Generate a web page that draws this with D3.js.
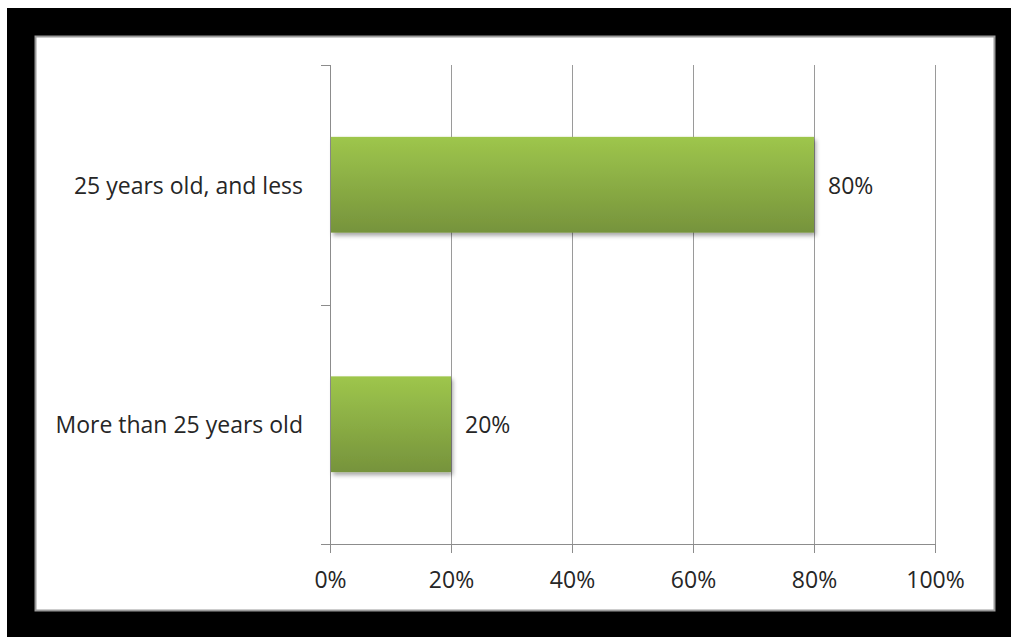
<!DOCTYPE html>
<html>
<head>
<meta charset="utf-8">
<script src="https://cdn.jsdelivr.net/npm/d3@7"></script>
<style>
  html, body { margin: 0; padding: 0; background: #fff; }
  svg { display: block; }
  text { font-family: "Open Sans", sans-serif; fill: #262626; }
</style>
</head>
<body>
<svg id="chart" width="1011" height="637"></svg>
<script>
// Share of respondents by age group
const categories = ["25 years old, and less", "More than 25 years old"];
const values = [80, 20];
const xTicks = [0, 20, 40, 60, 80, 100];

const svg = d3.select("#chart");
const W = 1011, H = 637;
const fontSize = 23;

// Black frame with white chart area
svg.append("rect").attr("x", 7).attr("y", 8).attr("width", W - 7).attr("height", H - 8).attr("fill", "#000");
svg.append("rect").attr("x", 35.5).attr("y", 36.5).attr("width", 959).attr("height", 574)
  .attr("fill", "#fff").attr("stroke", "#9a9a9a").attr("stroke-width", 2);

const plot = { left: 330, right: 935, top: 65, bottom: 544 };

const x = d3.scaleLinear().domain([0, 100]).range([plot.left, plot.right]);
const y = d3.scaleBand().domain(categories).range([plot.top, plot.bottom]).paddingInner(0.6).paddingOuter(0.3);

const defs = svg.append("defs");
const grad = defs.append("linearGradient").attr("id", "barGrad").attr("x1", 0).attr("y1", 0).attr("x2", 0).attr("y2", 1);
grad.append("stop").attr("offset", "0%").attr("stop-color", "#9ec64c");
grad.append("stop").attr("offset", "100%").attr("stop-color", "#76933c");

const shadow = defs.append("filter").attr("id", "barShadow").attr("x", "-5%").attr("y", "-10%").attr("width", "115%").attr("height", "130%");
shadow.append("feDropShadow").attr("dx", 2).attr("dy", 3).attr("stdDeviation", 2)
  .attr("flood-color", "#000").attr("flood-opacity", 0.35);

// Vertical gridlines
svg.append("g").selectAll("line").data(xTicks.slice(1)).join("line")
  .attr("x1", d => Math.round(x(d)) + 0.5).attr("x2", d => Math.round(x(d)) + 0.5)
  .attr("y1", plot.top).attr("y2", plot.bottom)
  .attr("stroke", "#9a9a9a").attr("stroke-width", 1);

// X axis
const xAxis = svg.append("g").attr("transform", `translate(0,${plot.bottom})`)
  .call(d3.axisBottom(x).tickValues(xTicks).tickFormat(d => d + "%").tickSizeInner(9).tickSizeOuter(0).tickPadding(19));
xAxis.select(".domain").remove();
xAxis.append("line").attr("x1", plot.left - 9).attr("x2", plot.right).attr("y1", 0.5).attr("y2", 0.5).attr("stroke", "#8c8c8c");
xAxis.selectAll(".tick line").attr("stroke", "#8c8c8c");
xAxis.selectAll(".tick text").attr("font-size", fontSize).attr("fill", "#262626").style("font-family", "'Open Sans', sans-serif");

// Y axis with ticks at category boundaries
const yAxis = svg.append("g");
yAxis.append("line").attr("x1", plot.left + 0.5).attr("x2", plot.left + 0.5)
  .attr("y1", plot.top).attr("y2", plot.bottom).attr("stroke", "#8c8c8c");
const bounds = [plot.top, (plot.top + plot.bottom) / 2];
yAxis.selectAll("line.tk").data(bounds).join("line").attr("class", "tk")
  .attr("x1", plot.left - 9).attr("x2", plot.left)
  .attr("y1", d => Math.round(d) + 0.5).attr("y2", d => Math.round(d) + 0.5)
  .attr("stroke", "#8c8c8c");

// Category labels
svg.append("g").selectAll("text").data(categories).join("text")
  .attr("x", plot.left - 27)
  .attr("y", d => y(d) + y.bandwidth() / 2 + 1)
  .attr("dy", "0.35em")
  .attr("text-anchor", "end")
  .attr("font-size", fontSize)
  .text(d => d);

// Bars
const data = categories.map((c, i) => ({ c, v: values[i] }));
svg.append("g").selectAll("rect").data(data).join("rect")
  .attr("x", x(0) + 1)
  .attr("y", d => y(d.c))
  .attr("width", d => x(d.v) - x(0) - 1)
  .attr("height", y.bandwidth())
  .attr("fill", "url(#barGrad)")
  .attr("filter", "url(#barShadow)");

// Value labels
svg.append("g").selectAll("text").data(data).join("text")
  .attr("x", d => x(d.v) + 14)
  .attr("y", d => y(d.c) + y.bandwidth() / 2 + 1)
  .attr("dy", "0.35em")
  .attr("font-size", fontSize)
  .text(d => d.v + "%");
</script>
</body>
</html>
